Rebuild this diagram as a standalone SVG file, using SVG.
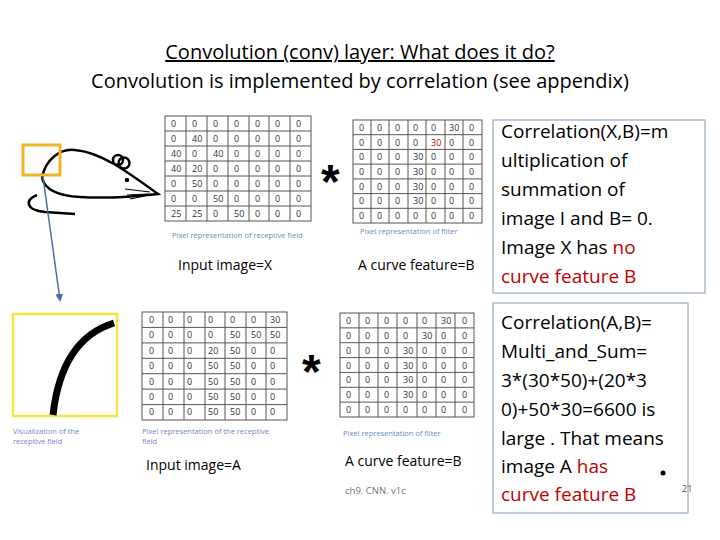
<svg xmlns="http://www.w3.org/2000/svg" width="720" height="540" viewBox="0 0 720 540">
<style>
text{font-family:"Open Sans","Liberation Sans",sans-serif}
.t{font-size:20px;fill:#000}
.g{fill:#fff;stroke:#555;stroke-width:1}
.n{font-size:9px;fill:#333}
.cap{font-size:7.5px;fill:#6b8cc0}
.lab{font-size:14px;fill:#000}
.box{fill:#fff;stroke:#7a9ab8;stroke-width:1}
.bt{font-size:19px;fill:#000}
.red{fill:#c00000}
.star{font-size:48px;fill:#000;font-family:"Liberation Sans",sans-serif;font-weight:bold}
</style>
<defs>
<marker id="ah" markerWidth="8" markerHeight="8" refX="6" refY="4" orient="auto" markerUnits="userSpaceOnUse"><path d="M0,0 L8,4 L0,8 z" fill="#4a6fa0"/></marker>
</defs>
<text class="t" x="360" y="59" text-anchor="middle" text-decoration="underline">Convolution (conv) layer: What does it do?</text>
<text class="t" x="360" y="88" text-anchor="middle">Convolution is implemented by correlation (see appendix)</text>

<g id="mouse" fill="none" stroke="#000" stroke-width="2.5">
<path d="M42,178 C45,160 60,148 75,150 C100,152 125,170 158,194 C140,196 110,199 80,197 C60,196 45,190 42,178"/>
<path d="M37,195 C25,200 25,210 45,212 L75,214"/>
<circle cx="124" cy="163" r="5.5"/><circle cx="118" cy="160" r="5"/>
<circle cx="127" cy="180" r="1" fill="#000"/>
<path d="M125,189 L150,192 M127,195 L148,194 M130,199 L145,196" stroke-width="1"/>
<rect x="23" y="145" width="37" height="30" stroke="#f0b429" stroke-width="3"/>
</g>

<g id="connectors">
<line x1="43" y1="177" x2="60" y2="300" stroke="#4a6fa0" stroke-width="1.5" marker-end="url(#ah)"/>
</g>

<g id="gridX">
<rect class="g" x="165" y="116" width="146" height="105"/>
<path stroke="#555" d="M186,116V221M207,116V221M228,116V221M249,116V221M269,116V221M290,116V221M165,131H311M165,146H311M165,161H311M165,176H311M165,191H311M165,206H311"/>
<g class="n">
<text x="171" y="127">0</text><text x="192" y="127">0</text><text x="213" y="127">0</text><text x="234" y="127">0</text><text x="255" y="127">0</text><text x="275" y="127">0</text><text x="296" y="127">0</text>
<text x="171" y="142">0</text><text x="192" y="142">40</text><text x="213" y="142">0</text><text x="234" y="142">0</text><text x="255" y="142">0</text><text x="275" y="142">0</text><text x="296" y="142">0</text>
<text x="171" y="157">40</text><text x="192" y="157">0</text><text x="213" y="157">40</text><text x="234" y="157">0</text><text x="255" y="157">0</text><text x="275" y="157">0</text><text x="296" y="157">0</text>
<text x="171" y="172">40</text><text x="192" y="172">20</text><text x="213" y="172">0</text><text x="234" y="172">0</text><text x="255" y="172">0</text><text x="275" y="172">0</text><text x="296" y="172">0</text>
<text x="171" y="187">0</text><text x="192" y="187">50</text><text x="213" y="187">0</text><text x="234" y="187">0</text><text x="255" y="187">0</text><text x="275" y="187">0</text><text x="296" y="187">0</text>
<text x="171" y="202">0</text><text x="192" y="202">0</text><text x="213" y="202">50</text><text x="234" y="202">0</text><text x="255" y="202">0</text><text x="275" y="202">0</text><text x="296" y="202">0</text>
<text x="171" y="217">25</text><text x="192" y="217">25</text><text x="213" y="217">0</text><text x="234" y="217">50</text><text x="255" y="217">0</text><text x="275" y="217">0</text><text x="296" y="217">0</text>
</g>
<text class="cap" x="172" y="238">Pixel representation of receptive field</text>
<text class="lab" x="178" y="270">Input image=X</text>
</g>

<text class="star" x="321" y="198">*</text>

<g id="gridB1">
<rect class="g" x="353" y="120" width="129" height="103"/>
<path stroke="#555" d="M371,120V223M389,120V223M408,120V223M426,120V223M445,120V223M463,120V223M353,134.7H482M353,149.4H482M353,164.1H482M353,178.9H482M353,193.6H482M353,208.3H482"/>
<g class="n">
<text x="359" y="131">0</text><text x="377" y="131">0</text><text x="395" y="131">0</text><text x="413" y="131">0</text><text x="431" y="131">0</text><text x="449" y="131">30</text><text x="469" y="131">0</text>
<text x="359" y="146">0</text><text x="377" y="146">0</text><text x="395" y="146">0</text><text x="413" y="146">0</text><text x="431" y="146" class="red">30</text><text x="449" y="146">0</text><text x="469" y="146">0</text>
<text x="359" y="160">0</text><text x="377" y="160">0</text><text x="395" y="160">0</text><text x="413" y="160">30</text><text x="431" y="160">0</text><text x="449" y="160">0</text><text x="469" y="160">0</text>
<text x="359" y="175">0</text><text x="377" y="175">0</text><text x="395" y="175">0</text><text x="413" y="175">30</text><text x="431" y="175">0</text><text x="449" y="175">0</text><text x="469" y="175">0</text>
<text x="359" y="190">0</text><text x="377" y="190">0</text><text x="395" y="190">0</text><text x="413" y="190">30</text><text x="431" y="190">0</text><text x="449" y="190">0</text><text x="469" y="190">0</text>
<text x="359" y="204">0</text><text x="377" y="204">0</text><text x="395" y="204">0</text><text x="413" y="204">30</text><text x="431" y="204">0</text><text x="449" y="204">0</text><text x="469" y="204">0</text>
<text x="359" y="219">0</text><text x="377" y="219">0</text><text x="395" y="219">0</text><text x="413" y="219">0</text><text x="431" y="219">0</text><text x="449" y="219">0</text><text x="469" y="219">0</text>
</g>
<text class="cap" x="360" y="234">Pixel representation of filter</text>
<text class="lab" x="358" y="270">A curve feature=B</text>
</g>

<g id="box1">
<rect class="box" x="493" y="120" width="212" height="173"/>
<text class="bt" x="501" y="138">Correlation(X,B)=m</text>
<text class="bt" x="501" y="167">ultiplication of</text>
<text class="bt" x="501" y="196">summation of</text>
<text class="bt" x="501" y="225">image I and B= 0.</text>
<text class="bt" x="501" y="254">Image X has <tspan class="red">no</tspan></text>
<text class="bt red" x="501" y="283">curve feature B</text>
</g>

<g id="vis">
<rect x="13" y="314" width="104" height="102" fill="#fff" stroke="#f5e642" stroke-width="2.5"/>
<path d="M53,415 C58,370 75,335 114,323" fill="none" stroke="#000" stroke-width="7"/>
<text class="cap" x="13" y="434">Visualization of the</text>
<text class="cap" x="13" y="444">receptive field</text>
</g>

<g id="gridA">
<rect class="g" x="142" y="312" width="145" height="108"/>
<path stroke="#555" d="M163,312V420M184,312V420M205,312V420M225,312V420M246,312V420M266,312V420M142,327.4H287M142,342.9H287M142,358.3H287M142,373.7H287M142,389.1H287M142,404.6H287"/>
<g class="n">
<text x="149" y="323">0</text><text x="168" y="323">0</text><text x="187" y="323">0</text><text x="208" y="323">0</text><text x="230" y="323">0</text><text x="251" y="323">0</text><text x="270" y="323">30</text>
<text x="149" y="338">0</text><text x="168" y="338">0</text><text x="187" y="338">0</text><text x="208" y="338">0</text><text x="230" y="338">50</text><text x="251" y="338">50</text><text x="270" y="338">50</text>
<text x="149" y="354">0</text><text x="168" y="354">0</text><text x="187" y="354">0</text><text x="208" y="354">20</text><text x="230" y="354">50</text><text x="251" y="354">0</text><text x="270" y="354">0</text>
<text x="149" y="369">0</text><text x="168" y="369">0</text><text x="187" y="369">0</text><text x="208" y="369">50</text><text x="230" y="369">50</text><text x="251" y="369">0</text><text x="270" y="369">0</text>
<text x="149" y="385">0</text><text x="168" y="385">0</text><text x="187" y="385">0</text><text x="208" y="385">50</text><text x="230" y="385">50</text><text x="251" y="385">0</text><text x="270" y="385">0</text>
<text x="149" y="400">0</text><text x="168" y="400">0</text><text x="187" y="400">0</text><text x="208" y="400">50</text><text x="230" y="400">50</text><text x="251" y="400">0</text><text x="270" y="400">0</text>
<text x="149" y="415">0</text><text x="168" y="415">0</text><text x="187" y="415">0</text><text x="208" y="415">50</text><text x="230" y="415">50</text><text x="251" y="415">0</text><text x="270" y="415">0</text>
</g>
<text class="cap" x="142" y="434">Pixel representation of the receptive</text>
<text class="cap" x="142" y="444">field</text>
<text class="lab" x="146" y="470">Input image=A</text>
</g>

<text class="star" x="302" y="388">*</text>

<g id="gridB2">
<rect class="g" x="340" y="313" width="134" height="104"/>
<path stroke="#555" d="M359,313V417M378,313V417M397,313V417M417,313V417M436,313V417M455,313V417M340,327.9H474M340,342.7H474M340,357.6H474M340,372.4H474M340,387.3H474M340,402.1H474"/>
<g class="n">
<text x="346" y="324">0</text><text x="365" y="324">0</text><text x="384" y="324">0</text><text x="403" y="324">0</text><text x="422" y="324">0</text><text x="441" y="324">30</text><text x="462" y="324">0</text>
<text x="346" y="339">0</text><text x="365" y="339">0</text><text x="384" y="339">0</text><text x="403" y="339">0</text><text x="422" y="339">30</text><text x="441" y="339">0</text><text x="462" y="339">0</text>
<text x="346" y="354">0</text><text x="365" y="354">0</text><text x="384" y="354">0</text><text x="403" y="354">30</text><text x="422" y="354">0</text><text x="441" y="354">0</text><text x="462" y="354">0</text>
<text x="346" y="369">0</text><text x="365" y="369">0</text><text x="384" y="369">0</text><text x="403" y="369">30</text><text x="422" y="369">0</text><text x="441" y="369">0</text><text x="462" y="369">0</text>
<text x="346" y="383">0</text><text x="365" y="383">0</text><text x="384" y="383">0</text><text x="403" y="383">30</text><text x="422" y="383">0</text><text x="441" y="383">0</text><text x="462" y="383">0</text>
<text x="346" y="398">0</text><text x="365" y="398">0</text><text x="384" y="398">0</text><text x="403" y="398">30</text><text x="422" y="398">0</text><text x="441" y="398">0</text><text x="462" y="398">0</text>
<text x="346" y="413">0</text><text x="365" y="413">0</text><text x="384" y="413">0</text><text x="403" y="413">0</text><text x="422" y="413">0</text><text x="441" y="413">0</text><text x="462" y="413">0</text>
</g>
<text class="cap" x="343" y="436">Pixel representation of filter</text>
<text class="lab" x="345" y="466">A curve feature=B</text>
<text x="345" y="494" font-size="9.5" fill="#777">ch9. CNN. v1c</text>
</g>

<g id="box2">
<rect class="box" x="493" y="303" width="195" height="210"/>
<text class="bt" x="501" y="329">Correlation(A,B)=</text>
<text class="bt" x="501" y="358">Multi_and_Sum=</text>
<text class="bt" x="501" y="387">3*(30*50)+(20*3</text>
<text class="bt" x="501" y="416">0)+50*30=6600 is</text>
<text class="bt" x="501" y="445">large . That means</text>
<text class="bt" x="501" y="473">image A <tspan class="red">has</tspan></text>
<text class="bt red" x="501" y="501">curve feature B</text>
<circle cx="663" cy="473" r="2.5" fill="#000"/>
<text x="682" y="492" font-size="9" fill="#555">21</text>
</g>
</svg>
